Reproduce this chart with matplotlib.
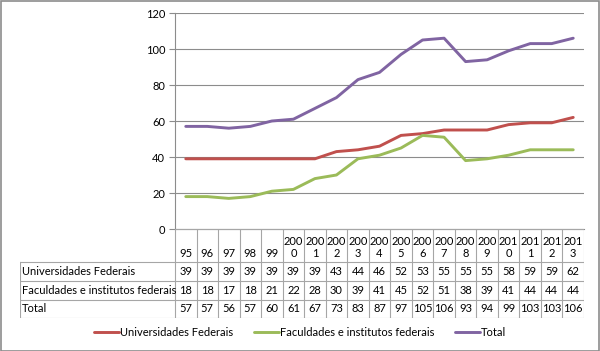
import matplotlib
matplotlib.use("Agg")
import matplotlib.pyplot as plt
from matplotlib.patches import Rectangle

years = ["95", "96", "97", "98", "99", "2000", "2001", "2002", "2003", "2004",
         "2005", "2006", "2007", "2008", "2009", "2010", "2011", "2012", "2013"]
univ = [39, 39, 39, 39, 39, 39, 39, 43, 44, 46, 52, 53, 55, 55, 55, 58, 59, 59, 62]
facul = [18, 18, 17, 18, 21, 22, 28, 30, 39, 41, 45, 52, 51, 38, 39, 41, 44, 44, 44]
total = [57, 57, 56, 57, 60, 61, 67, 73, 83, 87, 97, 105, 106, 93, 94, 99, 103, 103, 106]

series = [
    ("Universidades Federais", univ, "#C0504D"),
    ("Faculdades e institutos federais", facul, "#9BBB59"),
    ("Total", total, "#8064A2"),
]

plt.rcParams["font.family"] = ["Lato", "DejaVu Sans"]
FS = 8
GRID = "#8C8C8C"
TAB = "#A6A6A6"

W, H = 600, 351
fig = plt.figure(figsize=(W / 100, H / 100), dpi=100)

# pixel geometry of plot area and table
ax_l, ax_r, ax_t, ax_b = 175, 584, 13, 229
lab_l = 20
rows_y = [229, 262, 281, 300, 318]   # header, univ, facul, total boundaries


def fx(px):
    return px / W


def fy(py):
    return 1 - py / H


ax = fig.add_axes([fx(ax_l), fy(ax_b), fx(ax_r) - fx(ax_l), fy(ax_t) - fy(ax_b)])
n = len(years)
xs = list(range(n))
for name, vals, col in series:
    ax.plot(xs, vals, color=col, lw=2.1, label=name, solid_capstyle="round")

ax.set_xlim(-0.5, n - 0.5)
ax.set_ylim(0, 120)
ax.set_yticks(range(0, 121, 20))
ax.yaxis.grid(True, color=GRID, lw=0.8)
ax.set_axisbelow(True)
ax.set_xticks([])
for s in ("top", "right"):
    ax.spines[s].set_visible(False)
ax.spines["left"].set_color(GRID)
ax.spines["bottom"].set_color(GRID)
ax.tick_params(axis="y", colors=GRID, length=4, width=0.8, labelsize=FS,
               labelcolor="black", pad=3)

# table drawn in its own axes, x units = category columns
colw = (ax_r - ax_l) / n
tab = fig.add_axes([fx(lab_l), fy(rows_y[-1]), fx(ax_r) - fx(lab_l),
                    fy(rows_y[0]) - fy(rows_y[-1])])
x0 = -0.5 - (ax_l - lab_l) / colw
tab.set_xlim(x0, n - 0.5)
tab.set_ylim(rows_y[-1], rows_y[0])
tab.axis("off")

# vertical lines between year columns
for i in range(n + 1):
    tab.plot([i - 0.5, i - 0.5], [rows_y[0], rows_y[-1]], color=TAB, lw=0.8)
tab.plot([x0, x0], [rows_y[1], rows_y[-1]], color=TAB, lw=0.8)
# horizontal lines
tab.plot([-0.5, n - 0.5], [rows_y[0], rows_y[0]], color=TAB, lw=0.8)
for y in rows_y[1:]:
    tab.plot([x0, n - 0.5], [y, y], color=TAB, lw=0.8)

# header text (wrapped like the original: "200\n0")
for i, yr in enumerate(years):
    lbl = yr if len(yr) <= 3 else yr[:3] + "\n" + yr[3:]
    tab.text(i, rows_y[1] - 3, lbl, ha="center", va="bottom", fontsize=FS,
             linespacing=1.15)

for r, (name, vals, col) in enumerate(series):
    yc = (rows_y[r + 1] + rows_y[r + 2]) / 2
    tab.text(x0 + 0.08, yc, name, ha="left", va="center", fontsize=FS)
    for i, v in enumerate(vals):
        tab.text(i, yc, str(v), ha="center", va="center", fontsize=FS)

fig.legend(loc="center", bbox_to_anchor=(0.5, fy(332)), ncol=3, frameon=False,
           fontsize=FS, handlelength=2.25, handletextpad=0.1, columnspacing=1.85)

fig.patches.append(Rectangle((0.5 / W, 0.5 / H), 1 - 1.5 / W, 1 - 1.5 / H,
                             transform=fig.transFigure, fill=False,
                             edgecolor="#8C8C8C", lw=1.2))

fig.savefig("out.png", dpi=100)
